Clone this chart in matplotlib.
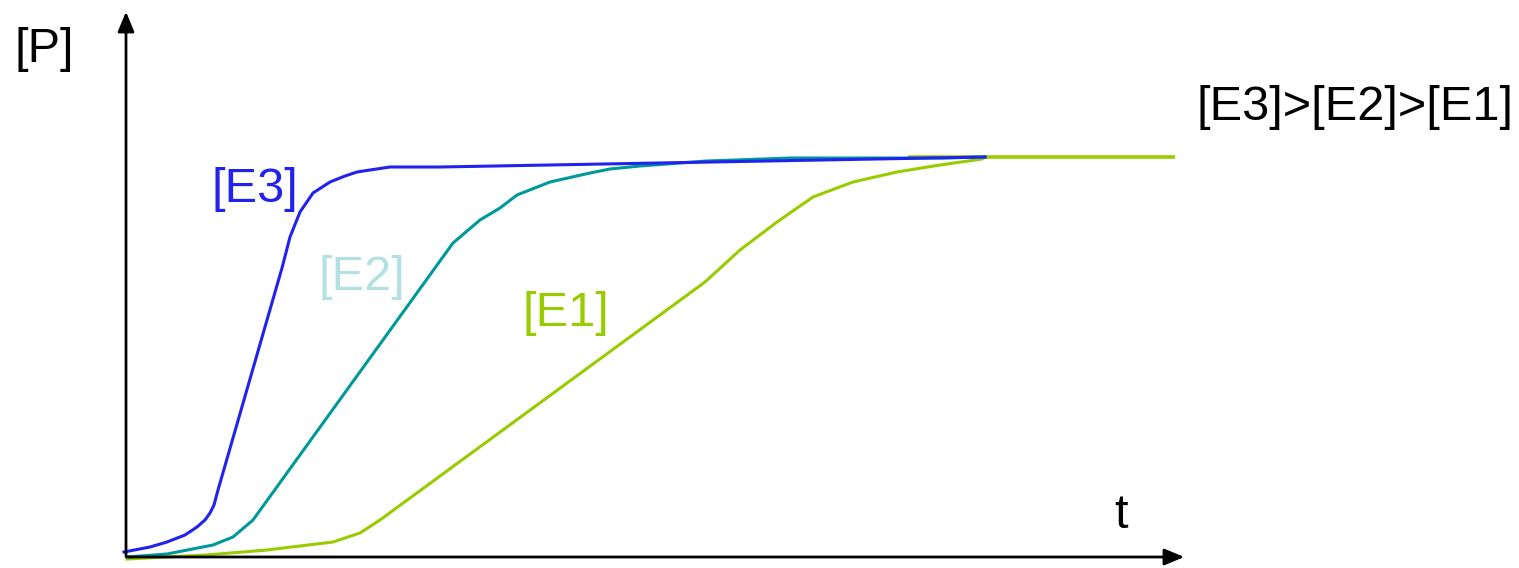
import matplotlib
matplotlib.use("Agg")
import matplotlib.pyplot as plt

plt.rcParams['font.family'] = ['Liberation Sans', 'DejaVu Sans']

# Data (t, [P]), arbitrary units
t_e3 = [-2, 24, 41, 59, 71, 79, 84, 88, 92, 156, 164, 174, 187, 204, 219, 231, 244, 264, 314, 859]
p_e3 = [5, 10, 15, 22, 30, 37, 44, 52, 67, 289, 320, 345, 364, 375, 381, 385, 387, 390, 390, 400]

t_e2 = [1, 41, 87, 107, 127, 327, 354, 374, 391, 424, 464, 484, 514, 581, 664, 747, 817, 859]
p_e2 = [0, 3, 12, 20, 37, 314, 337, 349, 362, 375, 384, 388, 391, 396, 399, 399, 399, 400]

t_e1 = [1, 80, 141, 174, 207, 234, 254, 579, 614, 651, 687, 727, 771, 814, 856, 859]
p_e1 = [-2, 2, 7, 11, 15, 24, 37, 275, 307, 335, 360, 375, 385, 392, 398, 400]
t_e1_flat = [782, 1049]
p_e1_flat = [400, 400]

labels = ['[E3]', '[E2]', '[E1]']

fig = plt.figure(figsize=(15.19, 5.68), dpi=100)
ax = fig.add_axes([0, 0, 1, 1])
ax.set_xlim(-126, 1519 - 126)
ax.set_ylim(557 - 568, 557)
ax.axis('off')

lw = 2.2
ax.plot(t_e1_flat, p_e1_flat, color='#99CC00', lw=lw + 0.4, solid_capstyle='butt')
ax.plot(t_e1, p_e1, color='#99CC00', lw=lw)
ax.plot(t_e2, p_e2, color='#009999', lw=lw)
ax.plot(t_e3, p_e3, color='#2222EE', lw=lw)

# axes with arrows
ax.annotate('', xy=(0, 548), xytext=(0, -2),
            arrowprops=dict(arrowstyle='-|>,head_length=1.2,head_width=0.5', color='black', lw=2))
ax.annotate('', xy=(1061, 0), xytext=(-2, 0),
            arrowprops=dict(arrowstyle='-|>,head_length=1.2,head_width=0.5', color='black', lw=2))

fs = 35
ax.text(129, 367, labels[0], color='#2222EE', fontsize=fs, ha='center', va='center')
ax.text(236, 279, labels[1], color='#B3E0E0', fontsize=fs, ha='center', va='center')
ax.text(440, 244, labels[2], color='#99CC00', fontsize=fs, ha='center', va='center')
ax.text(1229, 449, '[E3]>[E2]>[E1]', color='black', fontsize=fs, ha='center', va='center')
ax.text(-82, 507, '[P]', color='black', fontsize=fs, ha='center', va='center')
ax.text(995, 42, 't', color='black', fontsize=fs, ha='center', va='center')

fig.savefig('out.png', dpi=100)
